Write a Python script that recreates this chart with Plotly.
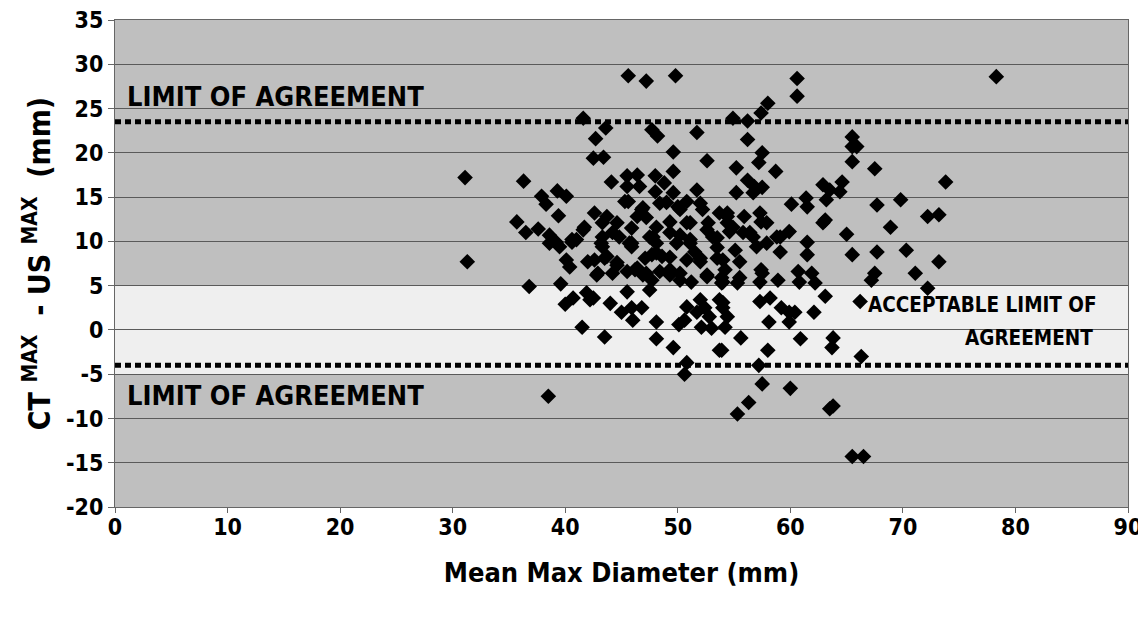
import plotly.graph_objects as go

# ---- data ----
mean_max_diameter = [
    31.1, 31.3, 36.3, 39.3, 40.1, 37.9, 38.3, 39.4, 35.7, 36.5, 37.6, 38.6, 39.2, 40.6, 41.6,
    41.6, 42.7, 42.5, 43.4, 43.6, 45.6, 47.2, 49.8, 47.7, 48.2, 51.7, 49.6, 52.6,
    44.1, 45.5, 46.4, 48.0, 49.6, 48.8, 46.6, 45.5, 48.0, 49.6, 51.7,
    45.3, 46.9, 48.4, 50.0, 52.0, 53.7, 42.6, 43.7, 44.6, 46.4, 45.9, 48.1, 49.3, 51.1, 52.6, 54.4,
    43.3, 44.8, 47.5, 48.1, 50.2, 51.1, 53.5, 45.9,
    60.6, 60.6, 58.0, 57.4, 54.9, 56.2, 56.2, 65.5, 65.5, 65.9, 65.5, 57.5, 57.2, 55.2, 58.7, 67.5,
    56.2, 56.8, 57.5, 55.2, 62.9, 63.5, 64.6, 64.4, 63.2, 61.4, 61.5, 60.1, 67.7, 62.9, 63.1, 65.0,
    59.9, 61.5, 54.4, 55.9, 57.3, 57.9, 54.6, 55.8, 56.7, 57.9, 59.1,
    78.3, 73.8, 69.8, 72.2, 73.2, 68.9, 67.7, 70.3, 73.2, 71.1, 67.5, 67.2, 72.2, 66.2, 66.3,
    65.5, 61.5, 59.1, 57.5, 58.9, 57.3, 60.7, 61.9, 62.2, 60.8, 54.0, 55.3, 54.0, 55.5, 63.1,
    57.3, 58.2, 59.2, 59.9, 59.9, 60.4, 62.1, 58.1, 54.0, 54.4, 54.2, 55.6, 60.9, 63.8, 63.7,
    58.0, 53.9, 57.2, 57.5, 60.0, 56.3, 55.3, 63.8, 63.5, 65.5, 66.5,
    44.0, 45.0, 45.9, 46.0, 46.8, 43.5, 48.1, 48.1, 49.6, 50.1, 50.6, 50.8, 51.7, 52.0, 52.4,
    52.1, 53.0, 52.8, 53.7, 54.0, 53.7, 50.8, 50.6, 42.5,
    42.9, 44.2, 42.6, 43.5, 45.5, 46.2, 46.9, 47.7, 48.4, 49.3, 50.2, 51.2, 52.6, 53.9, 54.2,
    53.5, 52.0, 50.8, 49.3, 48.1, 47.1, 45.9, 44.6, 43.3,
    36.8, 39.6, 40.0, 40.7, 41.9, 42.2, 41.5, 38.5, 40.1, 40.4, 42.0, 38.6, 39.5, 40.6,
    41.0, 41.7, 43.3, 44.2, 43.2, 43.7, 42.8, 44.6, 45.7, 45.6, 46.8, 47.2, 46.4, 47.2,
    47.8, 47.7, 48.6, 49.3, 49.9, 49.0, 50.2, 50.8, 50.8, 49.3, 50.2, 51.1, 51.5, 52.0,
    52.2, 52.7, 53.1, 53.5, 54.4, 54.9, 55.1, 56.4, 57.0, 57.4, 58.8, 53.9, 55.5, 57.4,
    52.6, 56.7, 45.5, 47.5,
]
ct_minus_us = [
    17.2, 7.7, 16.8, 15.7, 15.1, 15.1, 14.2, 12.9, 12.2, 11.0, 11.4, 10.7, 9.9, 10.2, 11.3,
    23.9, 21.6, 19.4, 19.5, 22.8, 28.7, 28.1, 28.7, 22.6, 21.9, 22.3, 20.1, 19.1,
    16.7, 17.4, 17.5, 17.4, 17.9, 16.6, 16.2, 16.2, 15.6, 15.5, 15.8,
    14.5, 13.8, 14.3, 13.9, 14.3, 13.2, 13.2, 12.8, 12.1, 12.8, 11.5, 11.6, 12.2, 12.1, 11.3, 12.1,
    10.5, 10.5, 10.5, 9.8, 10.7, 9.8, 10.4, 9.8,
    28.4, 26.4, 25.6, 24.5, 23.9, 23.6, 21.5, 21.8, 20.7, 20.7, 19.0, 20.0, 18.9, 18.3, 17.9, 18.2,
    16.9, 16.2, 16.1, 15.5, 16.4, 15.8, 16.7, 15.6, 14.7, 14.9, 13.9, 14.2, 14.1, 12.1, 12.4, 10.8,
    11.1, 9.9, 13.2, 12.8, 13.2, 12.1, 11.1, 11.0, 10.5, 9.8, 10.5,
    28.6, 16.7, 14.7, 12.8, 13.0, 11.6, 8.8, 9.0, 7.7, 6.4, 6.4, 5.6, 4.7, 3.2, -3.0,
    8.5, 8.5, 8.8, 6.4, 5.6, 5.4, 6.6, 6.4, 5.3, 5.4, 5.4, 5.3, 7.9, 7.7, 3.8,
    3.2, 3.6, 2.5, 2.0, 0.9, 2.0, 2.0, 0.9, 3.1, 1.5, 0.3, -0.9, -1.0, -0.9, -2.0,
    -2.3, -2.3, -4.0, -6.1, -6.6, -8.2, -9.5, -8.6, -8.9, -14.3, -14.3,
    3.0, 2.0, 2.5, 1.1, 2.5, -0.8, 0.9, -1.0, -2.0, 0.6, 1.1, 2.6, 2.0, 3.4, 2.5,
    0.3, 0.2, 1.5, 3.4, 2.5, -2.3, -3.7, -5.0, 3.6,
    6.4, 6.4, 7.9, 8.1, 6.6, 6.8, 6.2, 5.6, 6.6, 6.2, 6.4, 5.4, 6.2, 5.3, 6.8,
    8.1, 8.1, 7.9, 8.2, 8.7, 8.1, 9.4, 7.6, 9.4,
    4.9, 5.2, 2.9, 3.6, 4.2, 3.4, 0.3, -7.5, 7.9, 7.1, 7.7, 9.8, 9.4, 9.9,
    10.2, 11.6, 12.1, 11.0, 9.8, 8.3, 6.2, 7.3, 9.8, 14.5, 13.6, 12.7, 7.0, 6.4,
    10.5, 8.5, 8.3, 11.0, 9.8, 14.4, 13.6, 14.5, 12.1, 6.8, 5.6, 10.2, 8.8, 7.7,
    13.6, 12.1, 10.5, 9.3, 12.8, 11.6, 9.0, 11.0, 9.4, 12.2, 10.5, 5.9, 5.9, 6.8,
    6.0, 15.5, 4.3, 4.5,
]
upper_limit = 23.5
lower_limit = -4.0
acceptable_band = [-5, 5]
x_ticks = [0, 10, 20, 30, 40, 50, 60, 70, 80, 90]
y_ticks = [-20, -15, -10, -5, 0, 5, 10, 15, 20, 25, 30, 35]

FONT = "DejaVu Sans Condensed, Liberation Sans Narrow, Arial Narrow, Liberation Sans, Arial, sans-serif"

fig = go.Figure()
fig.add_trace(go.Scatter(
    x=mean_max_diameter, y=ct_minus_us, mode="markers",
    marker=dict(symbol="diamond", size=12, color="black", line=dict(width=0)),
    showlegend=False, hoverinfo="x+y",
))

# acceptable band
fig.add_shape(type="rect", xref="paper", yref="y", x0=0, x1=1,
              y0=acceptable_band[0], y1=acceptable_band[1],
              fillcolor="#efefef", line=dict(width=0), layer="below")
# limit lines
for lim in (upper_limit, lower_limit):
    fig.add_shape(type="line", xref="paper", yref="y", x0=0, x1=1, y0=lim, y1=lim,
                  line=dict(color="black", width=5, dash="6px,4px"), layer="above")

big = dict(family=FONT, size=27, color="black")
fig.add_annotation(x=0.9, y=26.4, xref="x", yref="y", text="<b>LIMIT OF AGREEMENT</b>",
                   showarrow=False, xanchor="left", yanchor="middle", font=big)
fig.add_annotation(x=0.9, y=-7.4, xref="x", yref="y", text="<b>LIMIT OF AGREEMENT</b>",
                   showarrow=False, xanchor="left", yanchor="middle", font=big)
small = dict(family=FONT, size=20.5, color="black")
fig.add_annotation(x=87.4, y=2.8, xref="x", yref="y", text="<b>ACCEPTABLE LIMIT OF</b>",
                   showarrow=False, xanchor="right", yanchor="middle", font=small)
fig.add_annotation(x=87.1, y=-0.9, xref="x", yref="y", text="<b>AGREEMENT</b>",
                   showarrow=False, xanchor="right", yanchor="middle", font=small)

axis_font = dict(family=FONT, size=23, color="black")
fig.update_layout(
    width=1136, height=606,
    margin=dict(l=107, r=16, t=12, b=107),
    paper_bgcolor="white", plot_bgcolor="#bfbfbf",
    xaxis=dict(range=[0, 90], tickvals=x_ticks, ticktext=[f"<b>{v}</b>" for v in x_ticks],
               showgrid=False, zeroline=False, showline=True, linecolor="#666", linewidth=1,
               mirror=True, ticks="outside", ticklen=5, tickcolor="#666",
               tickfont=axis_font, automargin=False, ticklabeloverflow="allow",
               ticklabelstandoff=-6,
               title=dict(text="<b>Mean Max Diameter (mm)</b>",
                          font=dict(family=FONT, size=27, color="black"), standoff=24)),
    yaxis=dict(range=[-20, 35], tickvals=y_ticks, ticktext=[f"<b>{v}</b>" for v in y_ticks],
               showgrid=True, gridcolor="#5a5a5a", gridwidth=1.2, zeroline=False,
               showline=True, linecolor="#666", linewidth=1, mirror=True,
               ticks="outside", ticklen=6, tickcolor="#666", tickfont=axis_font,
               automargin=False, ticklabeloverflow="allow",
               title=dict(text="<b>CT <sup>MAX</sup>  - US <sup>MAX</sup>  (mm)</b>",
                          font=dict(family=FONT, size=30, color="black"), standoff=6)),
)
fig.write_html("out.html")
